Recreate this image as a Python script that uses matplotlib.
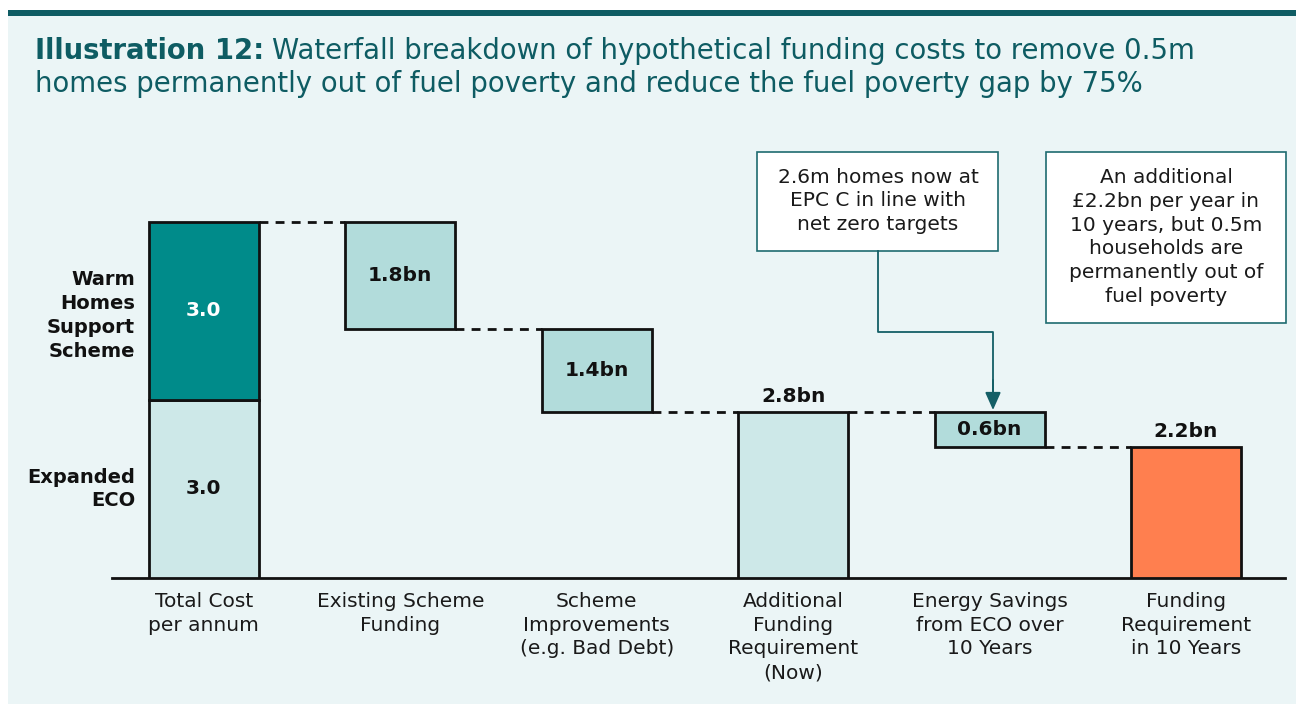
import matplotlib
matplotlib.use("Agg")
import matplotlib.pyplot as plt
from matplotlib.patches import Rectangle, FancyArrowPatch

plt.rcParams["font.family"] = ["DejaVu Sans"]

# ---- data ----
categories = ["Total Cost\nper annum", "Existing Scheme\nFunding",
              "Scheme\nImprovements\n(e.g. Bad Debt)", "Additional\nFunding\nRequirement\n(Now)",
              "Energy Savings\nfrom ECO over\n10 Years", "Funding\nRequirement\nin 10 Years"]
eco = 3.0
warm_homes = 3.0
steps = [-1.8, -1.4]          # existing funding, scheme improvements
additional_now = 2.8
energy_savings = -0.6
funding_10y = 2.2
step_labels = ["1.8bn", "1.4bn"]

W, H = 1296, 704
fig = plt.figure(figsize=(W / 100, H / 100), dpi=100)
fig.patch.set_facecolor("white")

def fx(x):
    return x / W

def fy(y):
    return 1 - y / H

TEAL_DARK = "#0E5C63"
BG = "#EBF5F6"
fig.patches.append(Rectangle((fx(8), 0), 1 - fx(8), fy(16), transform=fig.transFigure,
                             facecolor=BG, edgecolor="none", zorder=-10))
fig.patches.append(Rectangle((fx(8), fy(16)), 1 - fx(8), fy(10) - fy(16), transform=fig.transFigure,
                             facecolor=TEAL_DARK, edgecolor="none", zorder=-10))

# title
TS = 19.8
t1 = fig.text(fx(35), fy(59), "Illustration 12:", fontsize=TS, fontweight="bold",
              color=TEAL_DARK, va="baseline", ha="left")
fig.canvas.draw()
bb = t1.get_window_extent(renderer=fig.canvas.get_renderer())
fig.text(bb.x1 / W + fx(8), fy(59),
         "Waterfall breakdown of hypothetical funding costs to remove 0.5m",
         fontsize=TS, color=TEAL_DARK, va="baseline", ha="left")
fig.text(fx(35), fy(92), "homes permanently out of fuel poverty and reduce the fuel poverty gap by 75%",
         fontsize=TS, color=TEAL_DARK, va="baseline", ha="left")

ax = fig.add_axes([fx(112), fy(578), fx(1285) - fx(112), fy(140) - fy(578)])
ax.set_facecolor("none")
ax.set_xlim(-0.468, 5.504)
ax.set_ylim(0, 7.38)
for s in ["top", "right", "left"]:
    ax.spines[s].set_visible(False)
ax.spines["bottom"].set_linewidth(2)
ax.spines["bottom"].set_color("#111111")
ax.set_yticks([])
ax.set_xticks(range(len(categories)))
ax.set_xticklabels(categories, fontsize=14.5, color="#1a1a1a", linespacing=1.32)
ax.tick_params(axis="x", length=0, pad=10)

bw = 0.56
LIGHT = "#CDE8E8"
MID = "#B2DCDB"
DARK = "#008B8A"
ORANGE = "#FF7F4F"
EC = "#111111"
LW = 2
FS_B = 14.5

# total stacked
ax.bar(0, eco, width=bw, color=LIGHT, edgecolor=EC, linewidth=LW, zorder=3)
ax.bar(0, warm_homes, bottom=eco, width=bw, color=DARK, edgecolor=EC, linewidth=LW, zorder=3)
ax.text(0, eco / 2, f"{eco:.1f}", ha="center", va="center", fontsize=FS_B, fontweight="bold", color="#111111")
ax.text(0, eco + warm_homes / 2, f"{warm_homes:.1f}", ha="center", va="center", fontsize=FS_B,
        fontweight="bold", color="white")

levels = [eco + warm_homes]
cur = eco + warm_homes
for i, (d, lab) in enumerate(zip(steps, step_labels), start=1):
    new = cur + d
    ax.bar(i, -d, bottom=new, width=bw, color=MID, edgecolor=EC, linewidth=LW, zorder=3)
    ax.text(i, new - d / 2, lab, ha="center", va="center", fontsize=FS_B, fontweight="bold", color="#111111")
    cur = new
    levels.append(cur)

ax.bar(3, additional_now, width=bw, color=LIGHT, edgecolor=EC, linewidth=LW, zorder=3)
ax.text(3, additional_now + 0.1, f"{additional_now:.1f}bn", ha="center", va="bottom", fontsize=FS_B,
        fontweight="bold", color="#111111")

e_bottom = additional_now + energy_savings
ax.bar(4, -energy_savings, bottom=e_bottom, width=bw, color=MID, edgecolor=EC, linewidth=LW, zorder=3)
ax.text(4, e_bottom - energy_savings / 2, f"{-energy_savings:.1f}bn", ha="center", va="center",
        fontsize=FS_B, fontweight="bold", color="#111111")

ax.bar(5, funding_10y, width=bw, color=ORANGE, edgecolor=EC, linewidth=LW, zorder=3)
ax.text(5, funding_10y + 0.1, f"{funding_10y:.1f}bn", ha="center", va="bottom", fontsize=FS_B,
        fontweight="bold", color="#111111")

# connectors
conn = [(0, levels[0]), (1, levels[1]), (2, levels[2]), (3, additional_now), (4, e_bottom)]
for i, yv in conn:
    ax.plot([i + bw / 2, i + 1 - bw / 2], [yv, yv], color="#111111", lw=2,
            linestyle=(0, (3.2, 2.6)), zorder=2)

# left labels
ax.text(-0.35, eco + warm_homes / 2 - 0.08, "Warm\nHomes\nSupport\nScheme", ha="right", va="center",
        fontsize=14, fontweight="bold", color="#111111", linespacing=1.32, clip_on=False)
ax.text(-0.35, eco / 2, "Expanded\nECO", ha="right", va="center",
        fontsize=14, fontweight="bold", color="#111111", linespacing=1.32, clip_on=False)

# annotation boxes
BOX_EC = "#1E6B70"
fig.patches.append(Rectangle((fx(757), fy(251)), fx(998) - fx(757), fy(152) - fy(251),
                             transform=fig.transFigure, facecolor="white", edgecolor=BOX_EC,
                             linewidth=1.2, zorder=5))
fig.text(fx(878), fy(201), "2.6m homes now at\nEPC C in line with\nnet zero targets", ha="center",
         va="center", fontsize=14.5, color="#1a1a1a", linespacing=1.32, zorder=6)
fig.patches.append(Rectangle((fx(1046), fy(323)), fx(1286) - fx(1046), fy(152) - fy(323),
                             transform=fig.transFigure, facecolor="white", edgecolor=BOX_EC,
                             linewidth=1.2, zorder=5))
fig.text(fx(1166), fy(237),
         "An additional\n£2.2bn per year in\n10 years, but 0.5m\nhouseholds are\npermanently out of\nfuel poverty",
         ha="center", va="center", fontsize=14.5, color="#1a1a1a", linespacing=1.32, zorder=6)

# arrow from box to energy-savings bar
ARW = "#145F66"
fig.lines.append(plt.Line2D([fx(878), fx(878), fx(993), fx(993)], [fy(251), fy(332), fy(332), fy(395)],
                            transform=fig.transFigure, color=ARW, lw=1.3, zorder=6))
fig.patches.append(FancyArrowPatch((fx(993), fy(380)), (fx(993), fy(410)), transform=fig.transFigure,
                                   arrowstyle="-|>,head_length=0.9,head_width=0.4", color=ARW, lw=1.3,
                                   mutation_scale=12, shrinkA=0, shrinkB=0, zorder=6))

fig.savefig("out.png", dpi=100, facecolor=fig.get_facecolor())
